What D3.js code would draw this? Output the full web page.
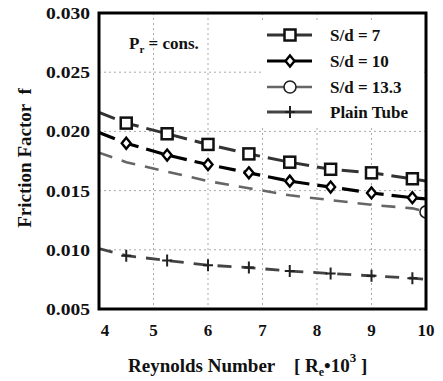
<!DOCTYPE html>
<html><head><meta charset="utf-8">
<script src="https://cdn.jsdelivr.net/npm/d3@7"></script>
<style>body{margin:0;background:#fff}svg{display:block}</style>
</head><body>
<script>
const reLine = [4, 4.5, 5.25, 6, 6.75, 7.5, 8.25, 9, 9.75, 10];
const fSd7 = [0.0216, 0.0207, 0.0198, 0.0189, 0.0181, 0.0174, 0.0168, 0.0165, 0.0160, 0.0158];
const fSd10 = [0.0199, 0.0190, 0.0180, 0.0172, 0.0165, 0.0158, 0.0153, 0.0148, 0.0144, 0.0143];
const fSd13 = [0.0182, 0.0174, 0.0166, 0.0158, 0.0152, 0.0146, 0.0142, 0.0138, 0.0135, 0.0132];
const fPlain = [0.0101, 0.0095, 0.0091, 0.0087, 0.0085, 0.0082, 0.0080, 0.0078, 0.0076, 0.0075];
const xTicks = [4, 5, 6, 7, 8, 9, 10];
const yTicks = [0.005, 0.010, 0.015, 0.020, 0.025, 0.030];
const seriesNames = ["S/d = 7", "S/d = 10", "S/d = 13.3", "Plain Tube"];

const W = 443, H = 381;
const FONT = "Liberation Serif";
const svg = d3.select("body").append("svg").attr("width", W).attr("height", H);
const x = d3.scaleLinear().domain([4, 10]).range([99, 426]);
const y = d3.scaleLinear().domain([0.005, 0.030]).range([309, 13]);

function txt(g) {
  return g.append("text").attr("font-family", FONT).attr("font-weight", "bold").attr("fill", "#111")
    .style("white-space", "pre");
}

// grid
const grid = svg.append("g").attr("stroke", "#aaa").attr("stroke-width", 1).attr("stroke-dasharray", "2,3");
grid.selectAll("line.v").data(xTicks.slice(1, -1)).join("line")
  .attr("x1", d => x(d)).attr("x2", d => x(d)).attr("y1", 13).attr("y2", 309);
grid.selectAll("line.h").data(yTicks.slice(1, -1)).join("line")
  .attr("y1", d => y(d)).attr("y2", d => y(d)).attr("x1", 99).attr("x2", 426);

// legend background
svg.append("rect").attr("x", 262).attr("y", 20).attr("width", 160).attr("height", 106).attr("fill", "#fff");

svg.append("defs").append("clipPath").attr("id", "clip")
  .append("rect").attr("x", 99).attr("y", 13).attr("width", 327).attr("height", 296);

const styles = [
  {data: fSd7, color: "#333", width: 3, dash: "17,8", marker: "square"},
  {data: fSd10, color: "#000", width: 3.2, dash: "17,8", marker: "diamond"},
  {data: fSd13, color: "#666", width: 2.6, dash: "14,10", marker: "circle"},
  {data: fPlain, color: "#444", width: 2.8, dash: "14,10", marker: "plus"}
];

const line = d3.line().x(d => x(d[0])).y(d => y(d[1]));
const plot = svg.append("g").attr("clip-path", "url(#clip)");

function drawMarker(g, type, cx, cy) {
  if (type === "square") {
    g.append("rect").attr("x", cx - 5.5).attr("y", cy - 5.5).attr("width", 11).attr("height", 11)
      .attr("fill", "#fff").attr("stroke", "#111").attr("stroke-width", 2.5);
  } else if (type === "diamond") {
    g.append("path").attr("d", `M${cx},${cy - 5.5}L${cx + 4.5},${cy}L${cx},${cy + 5.5}L${cx - 4.5},${cy}Z`)
      .attr("fill", "#fff").attr("stroke", "#000").attr("stroke-width", 2.4);
  } else if (type === "circle") {
    g.append("circle").attr("cx", cx).attr("cy", cy).attr("r", 6)
      .attr("fill", "#fff").attr("stroke", "#222").attr("stroke-width", 1.6);
  } else {
    g.append("path").attr("d", `M${cx - 5},${cy}H${cx + 5}M${cx},${cy - 6}V${cy + 6}`)
      .attr("stroke", "#222").attr("stroke-width", 2);
  }
}

styles.forEach((s, i) => {
  const pts = reLine.map((r, k) => [r, s.data[k]]);
  plot.append("path").datum(pts).attr("d", line).attr("fill", "none")
    .attr("stroke", s.color).attr("stroke-width", s.width).attr("stroke-dasharray", s.dash);
  if (s.marker === "circle") {
    drawMarker(plot, s.marker, x(reLine[9]), y(s.data[9]));
  } else {
    pts.slice(1, 9).forEach(p => drawMarker(plot, s.marker, x(p[0]), y(p[1])));
  }
});

// frame
svg.append("rect").attr("x", 99).attr("y", 13).attr("width", 327).attr("height", 296)
  .attr("fill", "none").attr("stroke", "#000").attr("stroke-width", 3);

// tick labels
yTicks.forEach(d => {
  txt(svg).attr("x", 90).attr("y", y(d) + 6).attr("text-anchor", "end").attr("font-size", 17)
    .attr("textLength", 44).attr("lengthAdjust", "spacingAndGlyphs")
    .text(d3.format(".3f")(d));
});
xTicks.forEach(d => {
  txt(svg).attr("x", x(d) + (d === 4 ? 6 : 0)).attr("y", 336).attr("text-anchor", "middle").attr("font-size", 17)
    .text(d);
});

// legend
styles.forEach((s, i) => {
  const ly = [35, 61, 87, 112][i];
  svg.append("line").attr("x1", 267).attr("x2", 312).attr("y1", ly).attr("y2", ly)
    .attr("stroke", s.color).attr("stroke-width", s.width);
  drawMarker(svg, s.marker, 290, ly);
  txt(svg).attr("x", 330).attr("y", ly + 6).attr("font-size", 17).text(seriesNames[i]);
});

// annotation
const ann = txt(svg).attr("x", 129).attr("y", 49).attr("font-size", 17);
ann.append("tspan").text("P");
ann.append("tspan").attr("font-size", 11).attr("dy", 4).text("r");
ann.append("tspan").attr("dy", -4).text(" = cons.");

// axis titles
const xt = txt(svg).attr("x", 128).attr("y", 372).attr("font-size", 19);
xt.append("tspan").text("Reynolds Number    [ R");
xt.append("tspan").attr("font-size", 12).attr("dy", 4).text("e");
xt.append("tspan").attr("dy", -4).text("•10");
xt.append("tspan").attr("font-size", 13).attr("dy", -10).text("3");
xt.append("tspan").attr("dy", 10).text(" ]");

txt(svg).attr("transform", "translate(31,158) rotate(-90)").attr("text-anchor", "middle")
  .attr("font-size", 19).text("Friction Factor  f");
</script>
</body></html>
